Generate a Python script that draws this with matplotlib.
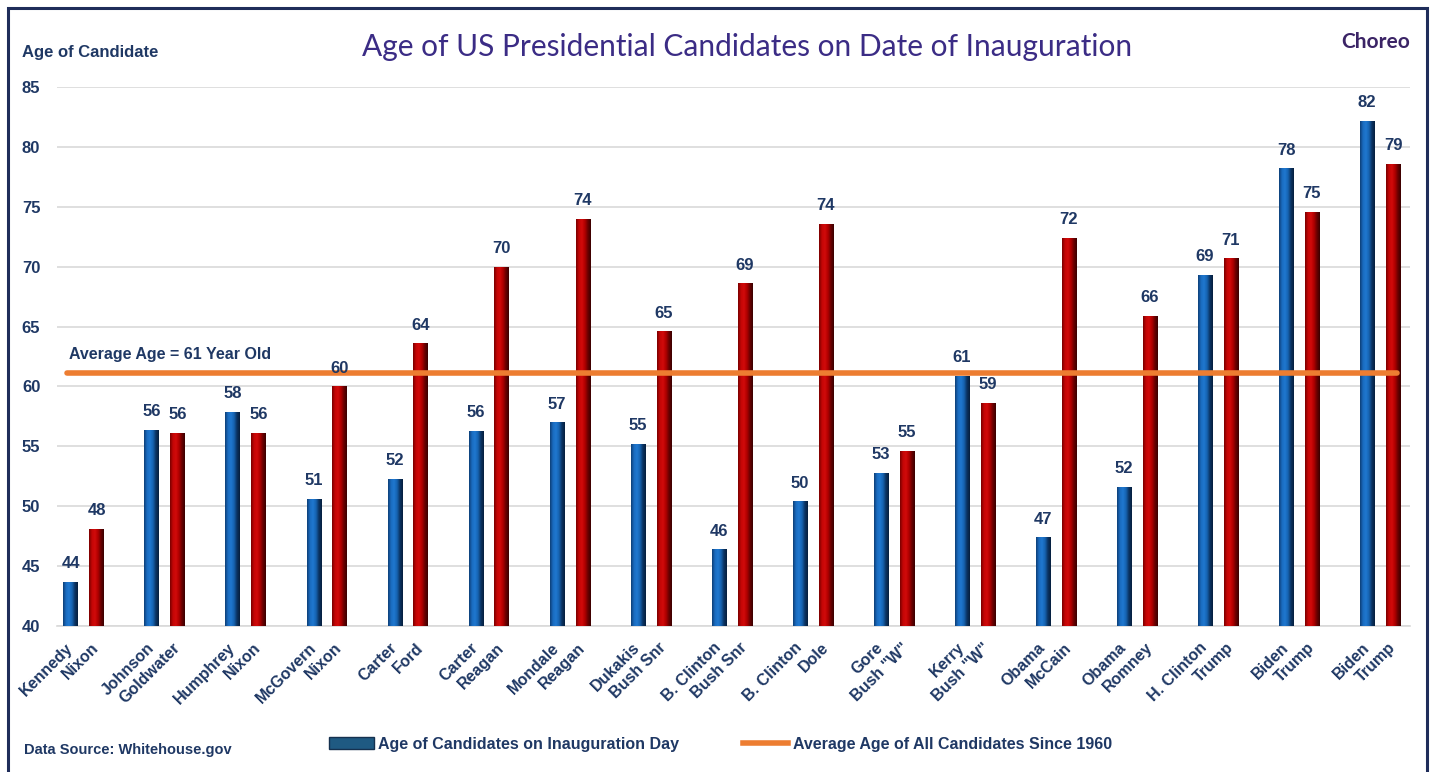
import numpy as np
import matplotlib.pyplot as plt
from matplotlib.colors import LinearSegmentedColormap
from matplotlib.patches import Patch, Rectangle
from matplotlib.lines import Line2D

# candidates per election, Democrat first then Republican
dem_names = ["Kennedy", "Johnson", "Humphrey", "McGovern", "Carter", "Carter",
             "Mondale", "Dukakis", "B. Clinton", "B. Clinton", "Gore", "Kerry",
             "Obama", "Obama", "H. Clinton", "Biden", "Biden"]
rep_names = ["Nixon", "Goldwater", "Nixon", "Nixon", "Ford", "Reagan",
             "Reagan", "Bush Snr", "Bush Snr", "Dole", 'Bush "W"', 'Bush "W"',
             "McCain", "Romney", "Trump", "Trump", "Trump"]
dem_ages = [43.7, 56.4, 57.9, 50.6, 52.3, 56.3, 57.0, 55.2, 46.4, 50.4, 52.8,
            60.9, 47.4, 51.6, 69.3, 78.2, 82.2]
rep_ages = [48.1, 56.1, 56.1, 60.0, 63.6, 70.0, 74.0, 64.6, 68.6, 73.6, 54.6,
            58.6, 72.4, 65.9, 70.7, 74.6, 78.6]
avg_age = 61.1
yticks = [40, 45, 50, 55, 60, 65, 70, 75, 80, 85]

navy = "#1f3864"
purple = "#3b2c85"
orange = "#ed7d31"
font = ["Liberation Sans", "DejaVu Sans"]
plt.rcParams["font.family"] = font

blue_cmap = LinearSegmentedColormap.from_list(
    "b", ["#0d3f78", "#1a6cc0", "#1f78cf", "#1664b2", "#0b3463", "#061f3d"])
red_cmap = LinearSegmentedColormap.from_list(
    "r", ["#7a0000", "#c40606", "#d10a0a", "#b00000", "#6a0000", "#3a0000"])
grad = np.linspace(0, 1, 64).reshape(1, -1)

fig = plt.figure(figsize=(14.35, 7.72), dpi=100)
ax = fig.add_axes([0.0397, 0.1891, 0.9429, 0.6982])

x = np.arange(len(dem_names))
off = 0.16
w = 0.18
bars_d = ax.bar(x - off, dem_ages, w, color="#1565b5", zorder=3)
bars_r = ax.bar(x + off, rep_ages, w, color="#c00000", zorder=3)

for bars, cmap in [(bars_d, blue_cmap), (bars_r, red_cmap)]:
    for b in bars:
        x0 = b.get_x()
        top = b.get_height()
        im = ax.imshow(grad, cmap=cmap, aspect="auto", zorder=4,
                       extent=(x0, x0 + b.get_width(), 40, top))
        im.set_clip_path(b)
        ax.text(x0 + b.get_width() / 2, top + 0.9, f"{top:.0f}", ha="center",
                va="bottom", fontsize=12, fontweight="bold", color=navy, zorder=6)

ax.plot([x[0] - off - 0.05, x[-1] + off + 0.05], [avg_age, avg_age], color=orange,
        lw=4, solid_capstyle="round", zorder=5)
ax.text(x[0] - off - 0.02, avg_age + 0.9, "Average Age = 61 Year Old", fontsize=11.5,
        fontweight="bold", color=navy, ha="left", va="bottom", zorder=6)

ax.set_xlim(-0.33, 16.37)
ax.set_ylim(40, 85)
ax.set_yticks(yticks)
ax.grid(axis="y", color="#d9d9d9", lw=1.2, zorder=0)
ax.set_axisbelow(True)
for s in ["top", "right", "left"]:
    ax.spines[s].set_visible(False)
ax.spines["bottom"].set_color("#d9d9d9")
ax.spines["bottom"].set_linewidth(1.2)
ax.tick_params(axis="y", length=0, pad=12, labelsize=12, labelcolor=navy)
for t in ax.get_yticklabels():
    t.set_fontweight("bold")

pos = np.ravel(np.column_stack([x - off, x + off]))
labels = [n for pair in zip(dem_names, rep_names) for n in pair]
ax.set_xticks(pos)
ax.set_xticklabels(labels, rotation=45, ha="right", va="center",
                   rotation_mode="anchor", fontsize=11.5, fontweight="bold", color=navy)
ax.tick_params(axis="x", length=0, pad=14)

fig.text(0.0155, 1 - 53 / 772, "Age of Candidate", fontsize=12, fontweight="bold",
         color=navy, va="center", ha="left")
fig.text(0.5206, 1 - 47 / 772, "Age of US Presidential Candidates on Date of Inauguration",
         fontsize=21.5, color=purple, ha="center", va="center", family=["Lato", "DejaVu Sans"])
fig.text(0.983, 1 - 42 / 772, "Choreo", fontsize=15, color="#3b2466", ha="right",
         va="center", family=["Lato", "DejaVu Sans"], fontweight="bold")
fig.text(0.0165, 1 - 750 / 772, "Data Source: Whitehouse.gov", fontsize=10.5,
         fontweight="bold", color=navy, ha="left", va="center")

handles = [Patch(facecolor="#1f5a82", edgecolor="#15314f"),
           Line2D([], [], color=orange, lw=4)]
leg = fig.legend(handles, ["Age of Candidates on Inauguration Day",
                           "Average Age of All Candidates Since 1960"],
                 loc="center", bbox_to_anchor=(0.502, 1 - 744 / 772), ncol=2,
                 frameon=False, fontsize=11.5, handlelength=2.8, handleheight=0.7,
                 handletextpad=0.3, columnspacing=4.0)
for t in leg.get_texts():
    t.set_color(navy)
    t.set_fontweight("bold")

fig.patches.append(Rectangle((8 / 1435, -0.02), 1419 / 1435, 1.02 - 8 / 772,
                             transform=fig.transFigure, fill=False,
                             edgecolor="#1f2d5a", lw=2.2))

fig.savefig("out.png", dpi=100)
